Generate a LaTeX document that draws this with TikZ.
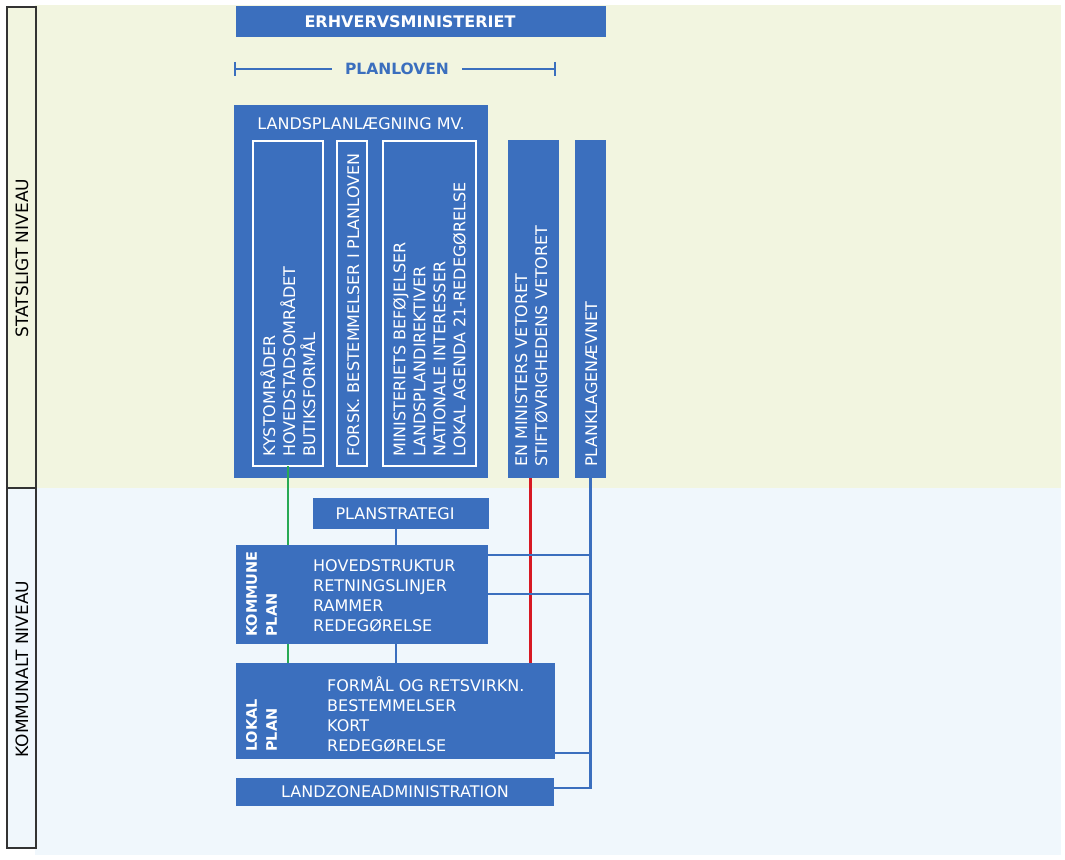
\documentclass[tikz,border=0pt]{standalone}
\usepackage{fontspec}
\setmainfont{DejaVu Sans}
\definecolor{planblaa}{RGB}{59,111,190}
\definecolor{gulbg}{RGB}{242,245,224}
\definecolor{blaabg}{RGB}{240,247,252}
\definecolor{vetorod}{RGB}{215,25,35}
\definecolor{groen}{RGB}{40,170,85}
\newcommand{\tekst}{\fontsize{16}{20}\selectfont}
\newcommand{\fedtekst}{\fontsize{14.5}{20}\selectfont\bfseries}
\newcommand{\titeltekst}{\fontsize{16}{20}\selectfont\bfseries}

\begin{document}
\begin{tikzpicture}[x=1pt,y=-1pt,
  blok/.style={fill=planblaa,text=white,inner sep=0pt,outer sep=0pt,font=\tekst},
  ramme/.style={draw=white,line width=2pt,inner sep=0pt,outer sep=0pt,anchor=north west},
  lodret/.style={rotate=90,anchor=north west,align=left,text=white,inner sep=0pt,font=\tekst},
  vandret/.style={anchor=north west,align=left,text=white,inner sep=0pt,font=\tekst},
  niveau/.style={draw=black!80,line width=1.3pt,inner sep=0pt,outer sep=0pt,minimum width=29pt},
  forbind/.style={draw=planblaa,line width=2.5pt}]

  \useasboundingbox (0,0) rectangle (1065,859);
  \fill[gulbg] (35,5) rectangle (1061,488);
  \fill[blaabg] (35,488) rectangle (1061,855);

  \node[niveau,fill=gulbg,minimum height=481pt] (stat) at (21.5,247.5) {};
  \node[niveau,fill=blaabg,minimum height=360pt] (kom) at (21.5,668) {};
  \node[rotate=90,font=\fontsize{17}{20}\selectfont] (stattekst) at (22,258) {STATSLIGT NIVEAU};
  \node[rotate=90,font=\fontsize{17}{20}\selectfont] (komtekst) at (22,669) {KOMMUNALT NIVEAU};

  \node[blok,minimum width=370pt,minimum height=31pt] (erhverv) at (421,22) {};
  \node[text=white,font=\titeltekst,inner sep=0pt] (erhvervtekst) at (410,22) {ERHVERVSMINISTERIET};

  \node[text=planblaa,font=\fontsize{15.5}{20}\selectfont\bfseries,inner xsep=13pt] (planlov) at (397,69) {PLANLOVEN};
  \coordinate (pl1) at (235,69);
  \coordinate (pl2) at (555,69);
  \draw[forbind] (pl1) -- (planlov.west) (planlov.east) -- (pl2);
  \draw[forbind] (pl1) ++(0,-7) -- ++(0,14) (pl2) ++(0,-7) -- ++(0,14);

  \node[blok,anchor=north west,minimum width=254pt,minimum height=373pt] (lands) at (234,105) {};
  \node[text=white,font=\tekst,anchor=north,inner sep=0pt] (landstitel) at (361,117) {LANDSPLANLÆGNING MV.};
  \node[ramme,minimum width=70pt,minimum height=325pt] (kyst) at (253,141) {};
  \node[ramme,minimum width=30pt,minimum height=325pt] (forsk) at (337,141) {};
  \node[ramme,minimum width=93pt,minimum height=325pt] (minist) at (383,141) {};
  \node[lodret] (kysttekst) at (260,457) {KYSTOMRÅDER\\HOVEDSTADSOMRÅDET\\BUTIKSFORMÅL};
  \node[lodret] (forsktekst) at (347,457) {FORSK. BESTEMMELSER I PLANLOVEN};
  \node[lodret] (ministtekst) at (393,457) {MINISTERIETS BEFØJELSER\\LANDSPLANDIREKTIVER\\NATIONALE INTERESSER\\LOKAL AGENDA 21-REDEGØRELSE};

  \node[blok,anchor=north west,minimum width=51pt,minimum height=338pt] (veto) at (508,140) {};
  \node[lodret] (vetotekst) at (515,467) {EN MINISTERS VETORET\\STIFTØVRIGHEDENS VETORET};
  \node[blok,anchor=north west,minimum width=31pt,minimum height=338pt] (klage) at (575,140) {};
  \node[lodret] (klagetekst) at (585,467) {PLANKLAGENÆVNET};

  \node[blok,anchor=north west,minimum width=176pt,minimum height=31pt] (strategi) at (313,498) {};
  \node[text=white,font=\tekst,inner sep=0pt] (strategitekst) at (395,513.5) {PLANSTRATEGI};
  \node[blok,anchor=north west,minimum width=252pt,minimum height=99pt] (kommune) at (236,545) {};
  \node[lodret,font=\fedtekst] (kommunenavn) at (246,637) {KOMMUNE\\PLAN};
  \node[vandret] (kommunetekst) at (313,559) {HOVEDSTRUKTUR\\RETNINGSLINJER\\RAMMER\\REDEGØRELSE};
  \node[blok,anchor=north west,minimum width=319pt,minimum height=96pt] (lokal) at (236,663) {};
  \node[lodret,font=\fedtekst] (lokalnavn) at (246,752) {LOKAL\\PLAN};
  \node[vandret] (lokaltekst) at (327,676) {FORMÅL OG RETSVIRKN.\\BESTEMMELSER\\KORT\\REDEGØRELSE};
  \node[blok,anchor=north west,minimum width=318pt,minimum height=28pt] (landzone) at (236,778) {LANDZONEADMINISTRATION};

  \coordinate (lzhoejre) at ([yshift=4pt]landzone.east);
  \coordinate (stratned) at ([xshift=-5pt]strategi.south);
  \coordinate (vetoned) at ([xshift=-3pt]veto.south);
  \draw[forbind,draw=groen] (kyst.south) -- (kyst.south |- kommune.north)
    (kyst.south |- kommune.south) -- (kyst.south |- lokal.north);
  \draw[forbind] (stratned) -- (stratned |- kommune.north)
    (stratned |- kommune.south) -- (stratned |- lokal.north);
  \draw[forbind,draw=vetorod] (vetoned) -- (vetoned |- lokal.north);
  \draw[forbind] (klage.south) -- (klage.south |- lzhoejre) -- (lzhoejre);
  \draw[forbind] ([yshift=-10pt]kommune.north east) -- ([yshift=-10pt]kommune.north east -| klage.south);
  \draw[forbind] ([yshift=-49pt]kommune.north east) -- ([yshift=-49pt]kommune.north east -| klage.south);
  \draw[forbind] ([yshift=6pt]lokal.south east) -- ([yshift=6pt]lokal.south east -| klage.south);
\end{tikzpicture}
\end{document}
